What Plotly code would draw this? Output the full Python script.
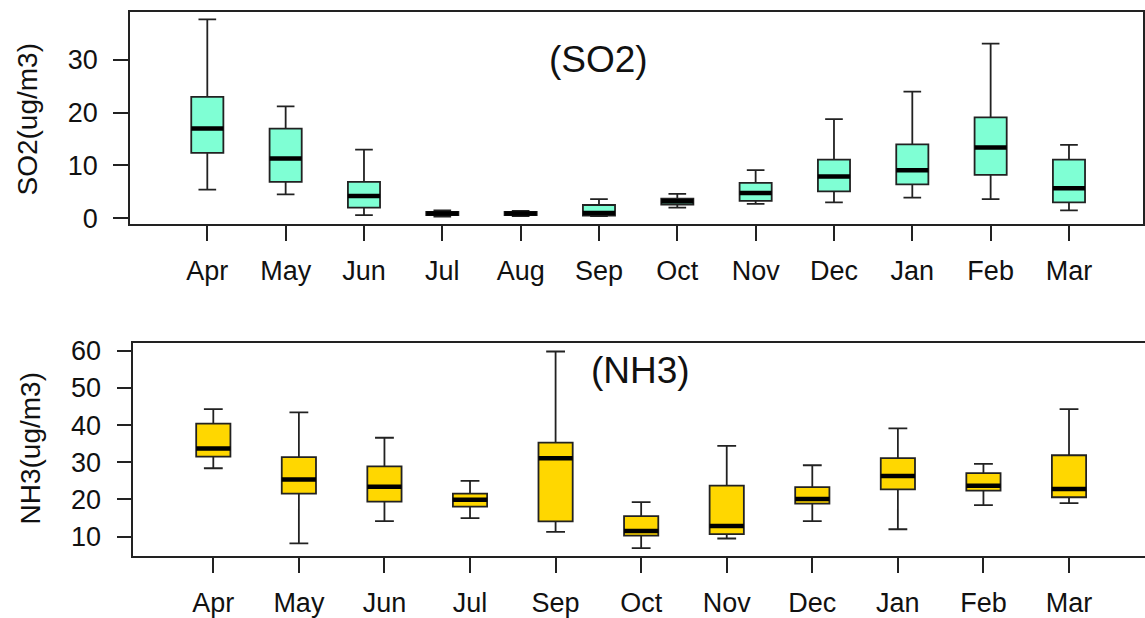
import plotly.graph_objects as go

W, H = 1145, 618

# ---- SO2 panel data ----
so2_months = ["Apr", "May", "Jun", "Jul", "Aug", "Sep", "Oct", "Nov", "Dec", "Jan", "Feb", "Mar"]
so2_lower = [5.4, 4.5, 0.6, 0.3, 0.4, 0.4, 2.0, 2.7, 3.0, 3.9, 3.6, 1.5]
so2_q1 = [12.4, 6.9, 2.0, 0.6, 0.6, 0.5, 2.6, 3.3, 5.1, 6.4, 8.2, 3.0]
so2_median = [17.0, 11.3, 4.2, 0.9, 0.9, 1.0, 3.2, 4.8, 7.9, 9.1, 13.4, 5.7]
so2_q3 = [23.0, 17.0, 6.9, 1.2, 1.2, 2.5, 3.7, 6.7, 11.1, 14.0, 19.1, 11.1]
so2_upper = [37.7, 21.2, 13.0, 1.5, 1.4, 3.6, 4.6, 9.1, 18.8, 24.0, 33.1, 13.9]

# ---- NH3 panel data ----
nh3_months = ["Apr", "May", "Jun", "Jul", "Sep", "Oct", "Nov", "Dec", "Jan", "Feb", "Mar"]
nh3_lower = [28.4, 8.2, 14.2, 15.0, 11.3, 6.9, 9.5, 14.2, 12.0, 18.5, 19.0]
nh3_q1 = [31.5, 21.6, 19.4, 18.1, 14.1, 10.3, 10.7, 18.9, 22.7, 22.4, 20.6]
nh3_median = [33.7, 25.4, 23.4, 19.9, 31.1, 11.5, 12.9, 20.1, 26.3, 23.7, 22.8]
nh3_q3 = [40.4, 31.4, 28.9, 21.6, 35.3, 15.5, 23.7, 23.3, 31.1, 27.1, 31.9]
nh3_upper = [44.3, 43.4, 36.6, 25.0, 59.8, 19.3, 34.4, 29.2, 39.1, 29.6, 44.3]

so2_ticks = [0, 10, 20, 30]
nh3_ticks = [10, 20, 30, 40, 50, 60]

FONT = "Liberation Sans, Arial, sans-serif"
LINE = "#222222"
BOXW = 0.41

fig = go.Figure()


def add_panel(months, lo, q1, med, q3, hi, color, xa, ya, width):
    pos = list(range(len(months)))
    fig.add_trace(go.Box(
        x=pos, lowerfence=lo, q1=q1, median=med, q3=q3, upperfence=hi,
        width=width, whiskerwidth=0.55, fillcolor=color,
        line=dict(color=LINE, width=1.8), boxpoints=False,
        xaxis=xa, yaxis=ya, showlegend=False, hoverinfo="skip",
    ))
    mx, my = [], []
    for p, m in zip(pos, med):
        mx += [p - width / 2, p + width / 2, None]
        my += [m, m, None]
    fig.add_trace(go.Scatter(
        x=mx, y=my, mode="lines", line=dict(color="black", width=4.5),
        xaxis=xa, yaxis=ya, showlegend=False, hoverinfo="skip",
    ))


add_panel(so2_months, so2_lower, so2_q1, so2_median, so2_q3, so2_upper,
          "#7FFFD4", "x", "y", BOXW)
add_panel(nh3_months, nh3_lower, nh3_q1, nh3_median, nh3_q3, nh3_upper,
          "#FFD700", "x2", "y2", 0.40)

axis_common = dict(showgrid=False, zeroline=False, showline=True, linecolor=LINE,
                   linewidth=1.6, ticks="outside", tickcolor=LINE, tickwidth=1.6,
                   ticklen=15, tickfont=dict(family=FONT, size=27, color="#111111"),
                   automargin=False)

fig.update_layout(
    width=W, height=H,
    margin=dict(l=0, r=0, t=0, b=0),
    paper_bgcolor="white", plot_bgcolor="white",
    xaxis=dict(domain=[130 / W, 1143 / W], anchor="y", range=[-0.987, 11.945],
               tickmode="array", tickvals=list(range(len(so2_months))), ticktext=so2_months,
               mirror=True, ticklabelstandoff=7, **axis_common),
    yaxis=dict(domain=[1 - 224 / H, 1 - 12 / H], anchor="x", range=[-1.1, 39.1],
               tickmode="array", tickvals=so2_ticks, mirror=True, ticklabelstandoff=10,
               **axis_common),
    xaxis2=dict(domain=[133.3 / W, 1.0], anchor="y2", range=[-0.935, 10.888],
                tickmode="array", tickvals=list(range(len(nh3_months))), ticktext=nh3_months,
                mirror=True, ticklabelstandoff=7, **axis_common),
    yaxis2=dict(domain=[1 - 556 / H, 1 - 343.3 / H], anchor="x2", range=[4.8, 62.0],
                tickmode="array", tickvals=nh3_ticks, mirror=False, ticklabelstandoff=10,
                **axis_common),
)

fig.add_annotation(text="SO2(ug/m3)", x=27 / W, y=1 - 119.5 / H, xref="paper", yref="paper",
                   textangle=-90, showarrow=False, xanchor="center", yanchor="middle",
                   font=dict(family=FONT, size=28, color="#111111"))
fig.add_annotation(text="NH3(ug/m3)", x=30 / W, y=1 - 448.5 / H, xref="paper", yref="paper",
                   textangle=-90, showarrow=False, xanchor="center", yanchor="middle",
                   font=dict(family=FONT, size=28, color="#111111"))
fig.add_annotation(text="(SO2)", x=598 / W, y=1 - 60 / H, xref="paper", yref="paper",
                   showarrow=False, xanchor="center", yanchor="middle",
                   font=dict(family=FONT, size=37, color="#111111"))
fig.add_annotation(text="(NH3)", x=640 / W, y=1 - 370 / H, xref="paper", yref="paper",
                   showarrow=False, xanchor="center", yanchor="middle",
                   font=dict(family=FONT, size=37, color="#111111"))

fig.write_html("out.html", config={"displayModeBar": False},
               post_script="document.body.style.margin='0';document.body.style.overflow='hidden';")
